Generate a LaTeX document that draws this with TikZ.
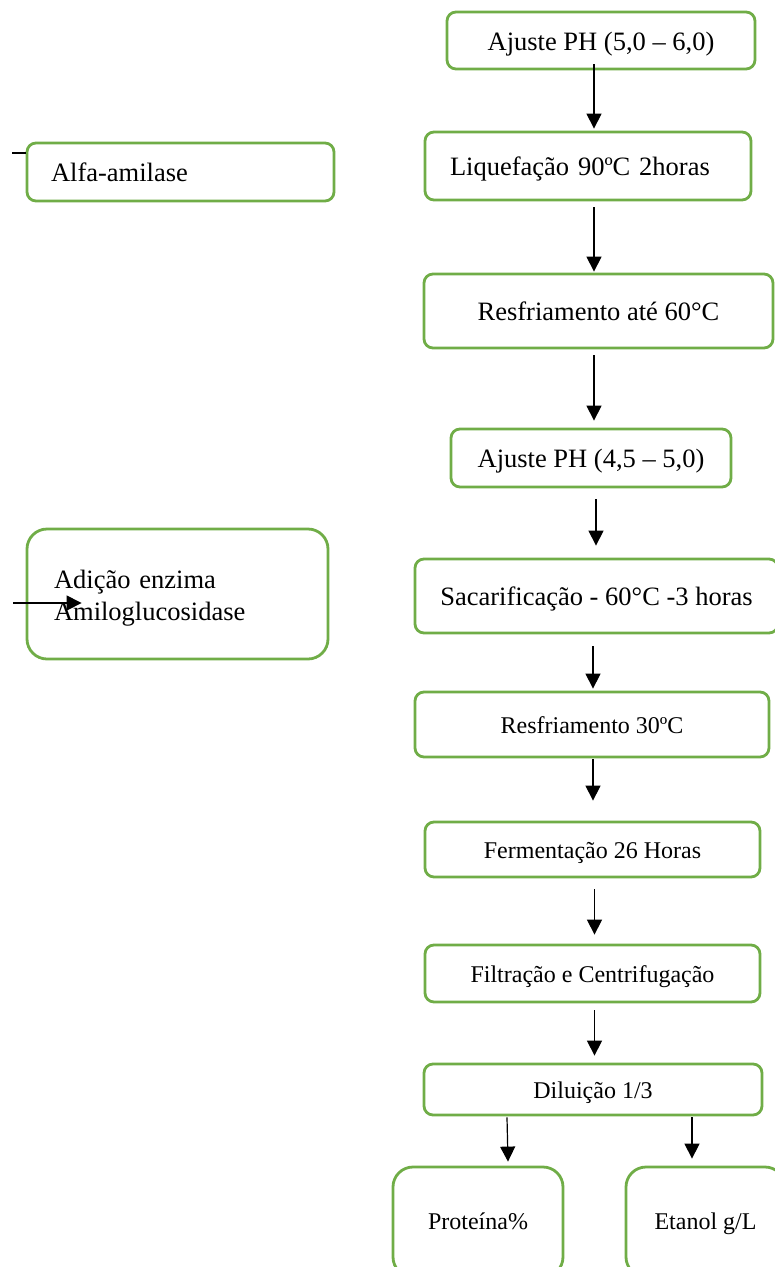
\documentclass[tikz,border=0pt]{standalone}
\usepackage{fontspec}
\setmainfont{Liberation Serif}
\usetikzlibrary{arrows.meta}
\definecolor{boxgreen}{HTML}{70AD47}
\begin{document}
\begin{tikzpicture}[x=1pt,y=-1pt,
  box/.style={draw=boxgreen, line width=2.8pt, rounded corners=9pt, inner sep=0pt, fill=white},
  bigbox/.style={box, rounded corners=20pt},
  bigtxt/.style={font=\fontsize{26.5}{32}\selectfont},
  smalltxt/.style={font=\fontsize{24}{29}\selectfont},
  bigone/.style={bigtxt, text height=25.7pt, text depth=6.6pt},
  smallone/.style={smalltxt, text height=24pt, text depth=6pt},
  arr/.style={-{Triangle[length=15pt,width=15pt]}, line width=1.2pt, black},
  plainline/.style={line width=1.2pt, black}]
\useasboundingbox (0,0) rectangle (775,1267);
\clip (0,0) rectangle (775,1267);

% main column
\node[box, bigone, minimum width=308pt, minimum height=57pt] (a1) at (601,40.5) {Ajuste PH (5,0 – 6,0)};
\node[box, bigone, minimum width=326pt, minimum height=68pt, text width=276pt, align=left] (liq) at (588,166) {Liquefação 90ºC 2horas};
\node[box, bigone, minimum width=349pt, minimum height=74pt] (r1) at (598.5,311) {Resfriamento até 60°C};
\node[box, bigone, minimum width=280pt, minimum height=58pt] (a2) at (591,458) {Ajuste PH (4,5 – 5,0)};
\node[box, bigone, minimum width=363pt, minimum height=74pt] (sac) at (596.5,596) {Sacarificação - 60°C -3 horas};
\node[box, smallone, minimum width=354pt, minimum height=65pt] (r2) at (592,724.5) {Resfriamento 30ºC};
\node[box, smallone, minimum width=335pt, minimum height=55pt] (fer) at (592.5,849.5) {Fermentação 26 Horas};
\node[box, smallone, minimum width=335pt, minimum height=57pt] (fil) at (592.5,973.5) {Filtração e Centrifugação};
\node[box, smallone, minimum width=338pt, minimum height=51pt] (dil) at (593,1089.5) {Diluição 1/3};
\node[bigbox, smalltxt, minimum width=170pt, minimum height=110pt, text height=20pt, text depth=6pt] (pro) at (478,1222) {Proteína\%};
\node[bigbox, smalltxt, minimum width=159pt, minimum height=110pt, text height=20pt, text depth=6pt] (eta) at (705.5,1222) {Etanol g/L};

% side boxes
\node[box, bigone, minimum width=307pt, minimum height=58pt, text width=259pt, align=left] (alfa) at (180.5,172) {Alfa-amilase};
\node[bigbox, bigtxt, minimum width=301pt, minimum height=130pt, text width=247pt, align=left, text height=27pt, text depth=37.8pt] (adi) at (177.5,594) {Adição enzima\\Amiloglucosidase};

% connectors
\draw[arr] ([xshift=-7pt,yshift=6pt]a1.south) -- ([xshift=6pt,yshift=2pt]liq.north);
\draw[arr] ([xshift=6pt,yshift=-6pt]liq.south) -- ([xshift=-4.5pt,yshift=1pt]r1.north);
\draw[arr] ([xshift=-4.5pt,yshift=-6pt]r1.south) -- ([xshift=3pt,yshift=7pt]a2.north);
\draw[arr] ([xshift=5pt,yshift=-11pt]a2.south) -- ([xshift=-0.5pt,yshift=12pt]sac.north);
\draw[arr] ([xshift=-3.5pt,yshift=-12pt]sac.south) -- ([xshift=1pt,yshift=2pt]r2.north);
\draw[arr] ([xshift=1pt,yshift=-1pt]r2.south) -- ([xshift=0.5pt,yshift=20pt]fer.north);
\draw[arr] ([xshift=2pt,yshift=-11pt]fer.south) -- ([xshift=2pt,yshift=9pt]fil.north);
\draw[arr] ([xshift=2pt,yshift=-7pt]fil.south) -- ([xshift=1.5pt,yshift=7pt]dil.north);
\draw[arr] ([xshift=-86pt,yshift=-1pt]dil.south) -- ([xshift=30pt,yshift=4pt]pro.north);
\draw[arr] ([xshift=99pt,yshift=-1pt]dil.south) -- ([xshift=-13.5pt,yshift=7pt]eta.north);

\coordinate (alfain) at (12,153);
\draw[plainline] (alfain) -- ([yshift=19pt]alfa.west);
\coordinate (adiin) at (13,603);
\draw[arr] (adiin) -- ([xshift=56pt,yshift=-9pt]adi.west);
\end{tikzpicture}
\end{document}
